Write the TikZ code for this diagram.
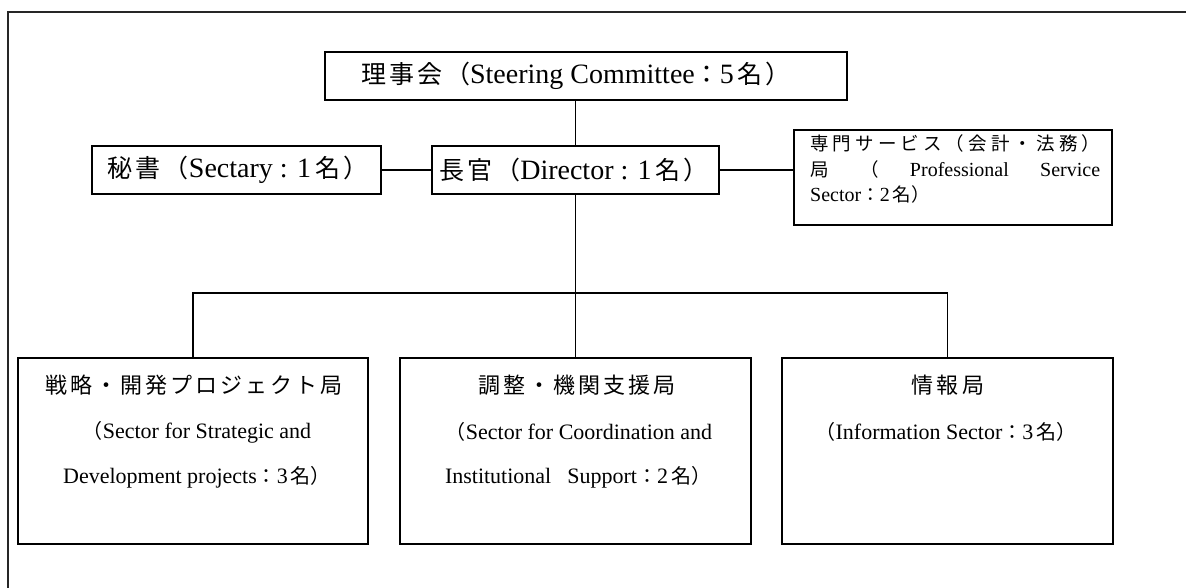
\documentclass[tikz,border=0pt]{standalone}
\usepackage{fontspec}
\setmainfont{Liberation Serif}
\newfontfamily\jp{Noto Sans CJK JP}
\newfontfamily\jpA{Noto Sans CJK JP}[LetterSpace=12]
\newfontfamily\jpB{Noto Sans CJK JP}[LetterSpace=14]
\newcommand{\szmain}{\fontsize{28}{32}\selectfont}
\newcommand{\szsub}{\fontsize{22}{26}\selectfont}
\newcommand{\szprof}{\fontsize{20}{25}\selectfont}
\newcommand{\JA}[1]{{\fontsize{25}{30}\selectfont\jpA #1}}
\newcommand{\JB}[1]{{\fontsize{22}{26}\selectfont\jpB #1}}
\newcommand{\JS}[1]{{\fontsize{20}{26}\selectfont\jp #1}}
\newcommand{\JP}[1]{{\fontsize{18.5}{25}\selectfont\jp #1}}
\begin{document}
\begin{tikzpicture}[x=1pt,y=-1pt,
  box/.style={draw,line width=1.6pt,inner sep=0pt},
  txt/.style={inner sep=0pt},
  conn/.style={line width=1.6pt}]
\useasboundingbox (0,0) rectangle (1186,588);
\draw[line width=1.5pt,color=black!85] (1186,12) -- (8,12) -- (8,588);

% top row
\node[box,minimum width=522pt,minimum height=48pt] (steer) at (586,76) {};
\node[txt] (steerT) at (576,76) {\szmain\JA{理事会（}Steering Committee\JA{：}5\hspace{4pt}\JA{名）}};

\node[box,minimum width=289pt,minimum height=48pt] (secretary) at (236.5,170) {};
\node[txt] (secretaryT) at (238,170) {\szmain\JA{秘書（}Sectary : 1\hspace{4pt}\JA{名）}};

\node[box,minimum width=287pt,minimum height=48pt] (director) at (575.5,170) {};
\node[txt] (directorT) at (574,170) {\szmain\JA{長官（}Director : 1\hspace{4pt}\JA{名）}};

\node[box,minimum width=318pt,minimum height=95pt] (prof) at (953,177.5) {};
\node[txt,anchor=west] (profA) at (810,143) {\szprof\makebox[290pt]{\JP{専}\hfill\JP{門}\hfill\JP{サ}\hfill\JP{ー}\hfill\JP{ビ}\hfill\JP{ス}\hfill\JP{（}\hfill\JP{会}\hfill\JP{計}\hfill\JP{・}\hfill\JP{法}\hfill\JP{務}\hfill\JP{）}}};
\node[txt,anchor=west] (profB) at (810,169) {\szprof\makebox[290pt]{\JP{局}\hfill\JP{（}\hfill Professional\hfill Service}};
\node[txt,anchor=west] (profC) at (810,194) {\szprof Sector\JP{：}2\hspace{3pt}\JP{名）}};

% lower row
\node[box,minimum width=350pt,minimum height=186pt] (box1) at (193,451) {};
\node[box,minimum width=351pt,minimum height=186pt] (box2) at (575.5,451) {};
\node[box,minimum width=331pt,minimum height=186pt] (box3) at (947.5,451) {};

\node[txt] (b1a) at (194,385) {\JB{戦略・開発プロジェクト局}};
\node[txt] (b1b) at (197,432) {\szsub\JS{（}Sector for Strategic and};
\node[txt] (b1c) at (197,477) {\szsub Development projects\JS{：}3\hspace{3pt}\JS{名）}};

\node[txt] (b2a) at (577,385) {\JB{調整・機関支援局}};
\node[txt] (b2b) at (579,432) {\szsub\JS{（}Sector for Coordination and};
\node[txt] (b2c) at (578,477) {\szsub Institutional\hspace{16pt}Support\JS{：}2\hspace{3pt}\JS{名）}};

\node[txt] (b3a) at (948,385) {\JB{情報局}};
\node[txt] (b3b) at (946,432) {\szsub\JS{（}Information Sector\JS{：}3\hspace{3pt}\JS{名）}};

% connectors
\draw[conn] (steer.south -| director.north) -- (director.north);
\draw[conn] (secretary.east) -- (director.west);
\draw[conn] (director.east) -- (director.east -| prof.west);
\draw[conn] (director.south) -- (box2.north);
\coordinate (bus) at (575.5,293);
\draw[conn] (box1.north) |- (bus) -| (box3.north);
\end{tikzpicture}
\end{document}
